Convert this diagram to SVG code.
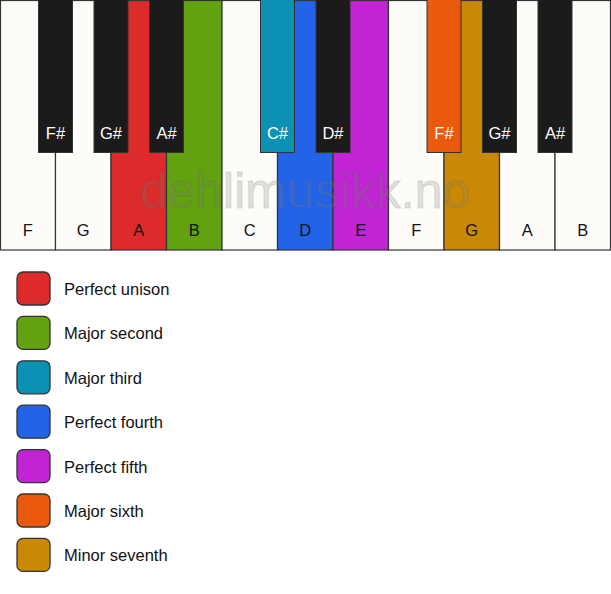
<svg xmlns="http://www.w3.org/2000/svg" width="611" height="594" viewBox="0 0 611 594">
<style>
text{font-family:"Liberation Sans",Arial,sans-serif;font-size:16.5px}
.wk{stroke:#333;stroke-width:1.2}
.bk{stroke:#333;stroke-width:1}
.wl{text-anchor:middle;fill:#111}
.bl{text-anchor:middle;fill:#fff}
.sw{stroke:#333;stroke-width:1.3}
.lt{fill:#111}
.wm{font-size:50px;text-anchor:middle;fill:#808080;fill-opacity:0.22;stroke:#555;stroke-opacity:0.12;stroke-width:1.5}
</style>
<rect width="611" height="594" fill="#fff"/>
<g id="white-keys">
<g id="key-F1"><rect class="wk" x="0.5" y="0.5" width="55" height="249.5" fill="#fdfcf9"/><text class="wl" x="27.75" y="236">F</text></g>
<g id="key-G1"><rect class="wk" x="55.5" y="0.5" width="55.5" height="249.5" fill="#fdfcf9"/><text class="wl" x="83.25" y="236">G</text></g>
<g id="key-A1"><rect class="wk" x="111" y="0.5" width="55.5" height="249.5" fill="#dd2a2a"/><text class="wl" x="138.75" y="236">A</text></g>
<g id="key-B1"><rect class="wk" x="166.5" y="0.5" width="55.5" height="249.5" fill="#62a10f"/><text class="wl" x="194.25" y="236">B</text></g>
<g id="key-C"><rect class="wk" x="222" y="0.5" width="55.5" height="249.5" fill="#fdfcf9"/><text class="wl" x="249.75" y="236">C</text></g>
<g id="key-D"><rect class="wk" x="277.5" y="0.5" width="55.5" height="249.5" fill="#2363e8"/><text class="wl" x="305.25" y="236">D</text></g>
<g id="key-E"><rect class="wk" x="333" y="0.5" width="55.5" height="249.5" fill="#c024d3"/><text class="wl" x="360.75" y="236">E</text></g>
<g id="key-F2"><rect class="wk" x="388.5" y="0.5" width="55.5" height="249.5" fill="#fdfcf9"/><text class="wl" x="416.25" y="236">F</text></g>
<g id="key-G2"><rect class="wk" x="444" y="0.5" width="55.5" height="249.5" fill="#c98906"/><text class="wl" x="471.75" y="236">G</text></g>
<g id="key-A2"><rect class="wk" x="499.5" y="0.5" width="55.5" height="249.5" fill="#fdfcf9"/><text class="wl" x="527.25" y="236">A</text></g>
<g id="key-B2"><rect class="wk" x="555" y="0.5" width="55.5" height="249.5" fill="#fdfcf9"/><text class="wl" x="582.75" y="236">B</text></g>
</g>
<text id="watermark" class="wm" x="305" y="208">dehlimusikk.no</text>
<g id="black-keys">
<g id="key-Fs1"><rect class="bk" x="38.5" y="-1" width="34" height="153.5" fill="#1b1b1b"/><text class="bl" x="55.5" y="138.5">F#</text></g>
<g id="key-Gs1"><rect class="bk" x="94" y="-1" width="34" height="153.5" fill="#1b1b1b"/><text class="bl" x="111" y="138.5">G#</text></g>
<g id="key-As1"><rect class="bk" x="149.5" y="-1" width="34" height="153.5" fill="#1b1b1b"/><text class="bl" x="166.5" y="138.5">A#</text></g>
<g id="key-Cs"><rect class="bk" x="260.5" y="-1" width="34" height="153.5" fill="#0a91b4"/><text class="bl" x="277.5" y="138.5">C#</text></g>
<g id="key-Ds"><rect class="bk" x="316" y="-1" width="34" height="153.5" fill="#1b1b1b"/><text class="bl" x="333" y="138.5">D#</text></g>
<g id="key-Fs2"><rect class="bk" x="427" y="-1" width="34" height="153.5" fill="#ea5a0e"/><text class="bl" x="444" y="138.5">F#</text></g>
<g id="key-Gs2"><rect class="bk" x="482.5" y="-1" width="34" height="153.5" fill="#1b1b1b"/><text class="bl" x="499.5" y="138.5">G#</text></g>
<g id="key-As2"><rect class="bk" x="538" y="-1" width="34" height="153.5" fill="#1b1b1b"/><text class="bl" x="555" y="138.5">A#</text></g>
</g>
<g id="legend">
<g id="legend-unison"><rect class="sw" x="17" y="272" width="33" height="33" rx="6" fill="#dd2a2a"/><text class="lt" x="64" y="295">Perfect unison</text></g>
<g id="legend-second"><rect class="sw" x="17" y="316.4" width="33" height="33" rx="6" fill="#62a10f"/><text class="lt" x="64" y="339.4">Major second</text></g>
<g id="legend-third"><rect class="sw" x="17" y="360.8" width="33" height="33" rx="6" fill="#0a91b4"/><text class="lt" x="64" y="383.8">Major third</text></g>
<g id="legend-fourth"><rect class="sw" x="17" y="405.2" width="33" height="33" rx="6" fill="#2363e8"/><text class="lt" x="64" y="428.2">Perfect fourth</text></g>
<g id="legend-fifth"><rect class="sw" x="17" y="449.6" width="33" height="33" rx="6" fill="#c024d3"/><text class="lt" x="64" y="472.6">Perfect fifth</text></g>
<g id="legend-sixth"><rect class="sw" x="17" y="494" width="33" height="33" rx="6" fill="#ea5a0e"/><text class="lt" x="64" y="517">Major sixth</text></g>
<g id="legend-seventh"><rect class="sw" x="17" y="538.4" width="33" height="33" rx="6" fill="#c98906"/><text class="lt" x="64" y="561.4">Minor seventh</text></g>
</g>
</svg>
